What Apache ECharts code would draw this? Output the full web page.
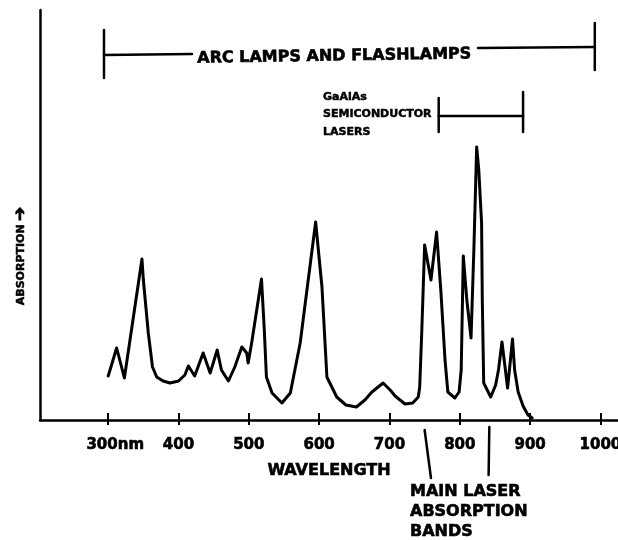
<!DOCTYPE html>
<html>
<head>
<meta charset="utf-8">
<script src="https://cdn.jsdelivr.net/npm/echarts@6/dist/echarts.min.js"></script>
<style>html,body{margin:0;padding:0;background:#fff;overflow:hidden;}#c{width:618px;height:540px;}</style>
</head>
<body>
<div id="c"></div>
<script>
// wavelength (nm) of each traced point of the absorption curve
const wavelengths = [300, 312, 323, 348, 350, 357, 363, 369, 378, 388, 400, 409, 414, 423, 435, 445, 455, 461, 471, 480, 490, 497, 499, 504, 518, 522, 525, 533, 547, 559, 573, 585, 595, 604, 611, 625, 638, 653, 665, 675, 691, 701, 708, 722, 733, 741, 743, 746, 750, 759, 767, 773, 779, 783, 793, 799, 802, 805, 810, 816, 820, 824, 827, 831, 832, 834, 844, 851, 855, 860, 868, 875, 878, 883, 890, 897, 903];
// relative absorption (arbitrary units)
const absorption = [44, 72, 42, 161, 140, 87, 53, 43, 39, 37, 39, 45, 54, 44, 67, 47, 70, 50, 39, 53, 73, 67, 57, 77, 141, 90, 43, 27, 17, 27, 77, 143, 198, 133, 43, 23, 15, 13, 20, 28, 37, 30, 24, 16, 17, 23, 33, 90, 175, 140, 188, 130, 60, 28, 22, 28, 50, 164, 120, 82, 170, 273, 250, 197, 120, 37, 23, 35, 50, 78, 32, 81, 50, 28, 14, 5, 2];
const tickValues = [300, 400, 500, 600, 700, 800, 900, 1000];
const arcLampRange = [294, 992];
const laserRange = [770, 890];
const bandTop = [750, 842];
const bandBottom = [759, 841];

const FONT = '"DejaVu Sans", sans-serif';
const BLEED = {textBorderColor: '#000', textBorderWidth: 0.6};
const chart = echarts.init(document.getElementById('c'), null, {renderer: 'canvas'});
const xMin = 203, xMax = 1025;
chart.setOption({
  backgroundColor: '#fff',
  animation: false,
  grid: {left: 40, right: 0, top: 10, bottom: 120, containLabel: false, outerBoundsMode: 'none'},
  xAxis: [{
    type: 'value', min: xMin, max: xMax,
    name: 'WAVELENGTH', nameLocation: 'middle', nameGap: 43,
    nameTextStyle: Object.assign({color: '#000', fontFamily: FONT, fontWeight: 'bold', fontSize: 16}, BLEED),
    axisLine: {show: true, lineStyle: {color: '#000', width: 2.5}},
    axisTick: {show: true, customValues: tickValues, length: 5, lineStyle: {color: '#000', width: 2}},
    axisLabel: Object.assign({
      show: true, customValues: tickValues, margin: 18, hideOverlap: false,
      color: '#000', fontFamily: FONT, fontWeight: 'bold', fontSize: 15,
      formatter: v => v === 300 ? '{p|300nm}' : String(v),
      rich: {p: Object.assign({color: '#000', fontFamily: FONT, fontWeight: 'bold', fontSize: 15, padding: [0, 0, 0, 14]}, BLEED)}
    }, BLEED),
    splitLine: {show: false}
  }, {
    type: 'value', min: xMin, max: xMax, position: 'bottom',
    axisLine: {show: false},
    axisTick: {show: true, inside: true, customValues: tickValues, length: 7, lineStyle: {color: '#000', width: 2}},
    axisLabel: {show: false},
    splitLine: {show: false}
  }],
  yAxis: {
    type: 'value', min: 0, max: 410,
    axisLine: {show: true, lineStyle: {color: '#000', width: 2.5}},
    axisTick: {show: false}, axisLabel: {show: false}, splitLine: {show: false}
  },
  series: [{
    type: 'line',
    data: wavelengths.map((w, i) => [w, absorption[i]]),
    showSymbol: false, symbol: 'none', smooth: false,
    lineStyle: {color: '#000', width: 3, cap: 'round', join: 'round'}
  }]
});

const px = v => chart.convertToPixel({xAxisIndex: 0}, v);
const ls = {stroke: '#000', lineWidth: 2.5, lineCap: 'round'};
const tx = (x, y, text, size, align, extra) => Object.assign({
  type: 'text', x: x, y: y,
  style: Object.assign({text: text, fill: '#000', fontFamily: FONT, fontWeight: 'bold', fontSize: size,
    align: align || 'center', verticalAlign: 'middle', stroke: '#000', lineWidth: 0.6}, extra && extra.style || {})
}, extra && extra.el || {});

const aL = px(arcLampRange[0]), aR = px(arcLampRange[1]);
const gL = px(laserRange[0]), gR = px(laserRange[1]);
const graphics = [
  // arc lamps bracket
  {type: 'line', shape: {x1: aL, y1: 30, x2: aL, y2: 78}, style: ls},
  {type: 'line', shape: {x1: aL, y1: 55, x2: 192, y2: 54}, style: ls},
  {type: 'line', shape: {x1: 478, y1: 48, x2: aR, y2: 47}, style: ls},
  {type: 'line', shape: {x1: aR, y1: 23, x2: aR, y2: 70}, style: ls},
  tx(335, 51, 'ARC LAMPS AND FLASHLAMPS', 16, 'center', {el: {rotation: 0.016, originX: 335, originY: 51}}),
  // GaAlAs bracket
  {type: 'line', shape: {x1: gL, y1: 98, x2: gL, y2: 132}, style: ls},
  {type: 'line', shape: {x1: gL, y1: 116, x2: gR, y2: 116}, style: ls},
  {type: 'line', shape: {x1: gR, y1: 92, x2: gR, y2: 132}, style: ls},
  tx(323, 114.5, 'GaAlAs\nSEMICONDUCTOR\nLASERS', 11, 'left', {style: {lineHeight: 17.5, lineWidth: 0.5}}),
  // main absorption band pointers
  {type: 'line', shape: {x1: px(bandTop[0]), y1: 430, x2: px(bandBottom[0]), y2: 478}, style: ls},
  {type: 'line', shape: {x1: px(bandTop[1]), y1: 427, x2: px(bandBottom[1]), y2: 475}, style: ls},
  tx(410, 511.5, 'MAIN LASER\nABSORPTION\nBANDS', 16, 'left', {style: {lineHeight: 20}}),
  // y axis title
  {
    type: 'text', x: 21, y: 256, rotation: Math.PI / 2,
    style: {
      text: '{a|ABSORPTION} {b|\u2794}', align: 'center', verticalAlign: 'middle',
      rich: {
        a: {fill: '#000', fontFamily: FONT, fontWeight: 'bold', fontSize: 11, stroke: '#000', lineWidth: 0.5},
        b: {fill: '#000', fontFamily: FONT, fontWeight: 'bold', fontSize: 17, stroke: '#000', lineWidth: 0.8}
      }
    }
  }
];
chart.setOption({graphic: graphics});
</script>
</body>
</html>
